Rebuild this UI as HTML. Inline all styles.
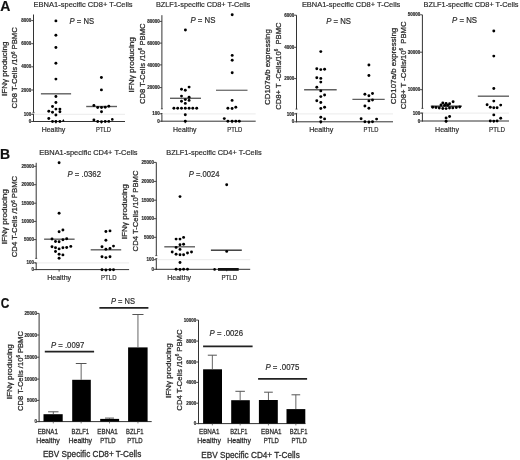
<!DOCTYPE html>
<html><head><meta charset="utf-8"><style>
html,body{margin:0;padding:0;background:#fff;}
body{width:520px;height:460px;overflow:hidden;}
svg{display:block;font-family:"Liberation Sans", sans-serif;will-change:transform;}
text{stroke:#333;stroke-width:0.2px;paint-order:stroke;}
.yl{stroke-width:0.28px;}
</style></head><body>
<svg width="520" height="460" viewBox="0 0 520 460">
<rect width="520" height="460" fill="#fff"/>
<text x="0.2" y="10.9" font-size="14" text-anchor="start" font-weight="bold" font-style="normal" fill="#111" >A</text>
<text x="0.0" y="159.3" font-size="14" text-anchor="start" font-weight="bold" font-style="normal" fill="#111" >B</text>
<text x="0.7" y="307.5" font-size="14.3" text-anchor="start" font-weight="bold" font-style="normal" fill="#111" textLength="8.6" lengthAdjust="spacingAndGlyphs" >C</text>
<text x="33.6" y="7.2" font-size="7.9" text-anchor="start" font-weight="normal" font-style="normal" fill="#2a2a2a" textLength="99.0" lengthAdjust="spacingAndGlyphs" >EBNA1-specific CD8+ T-Cells</text>
<text x="69.6" y="23.6" font-size="8.3" fill="#2a2a2a" textLength="24.4" lengthAdjust="spacingAndGlyphs"><tspan font-style="italic">P</tspan> = NS</text>
<text class="yl" transform="translate(6.55,96.0) rotate(-90)" x="0" y="0" font-size="7.8" fill="#2a2a2a" textLength="54.4" lengthAdjust="spacingAndGlyphs">IFNγ producing</text>
<text class="yl" transform="translate(17.35,108.4) rotate(-90)" x="0" y="0" font-size="7.8" fill="#2a2a2a" textLength="81.2" lengthAdjust="spacingAndGlyphs">CD8 T-Cells /10<tspan font-size="4.5" dy="-2.5">6</tspan><tspan dy="2.5"> PBMC</tspan></text>
<line x1="33.5" y1="14.5" x2="33.5" y2="112.4" stroke="#333" stroke-width="1.0" />
<line x1="33.5" y1="114.2" x2="33.5" y2="122.0" stroke="#333" stroke-width="1.0" />
<line x1="32.5" y1="112.4" x2="34.5" y2="112.4" stroke="#333" stroke-width="0.8" />
<line x1="32.5" y1="114.2" x2="34.5" y2="114.2" stroke="#333" stroke-width="0.8" />
<line x1="33.0" y1="121.5" x2="125.0" y2="121.5" stroke="#333" stroke-width="1.0" />
<line x1="34.0" y1="114.3" x2="125.0" y2="114.3" stroke="#efefef" stroke-width="1.2" />
<line x1="31.2" y1="20.6" x2="33.5" y2="20.6" stroke="#333" stroke-width="0.9" />
<text x="31.3" y="22.200000000000003" font-size="4.5" text-anchor="end" font-weight="bold" font-style="normal" fill="#222" style="stroke-width:0.15px">8000</text>
<line x1="31.2" y1="43.7" x2="33.5" y2="43.7" stroke="#333" stroke-width="0.9" />
<text x="31.3" y="45.300000000000004" font-size="4.5" text-anchor="end" font-weight="bold" font-style="normal" fill="#222" style="stroke-width:0.15px">6000</text>
<line x1="31.2" y1="66.8" x2="33.5" y2="66.8" stroke="#333" stroke-width="0.9" />
<text x="31.3" y="68.39999999999999" font-size="4.5" text-anchor="end" font-weight="bold" font-style="normal" fill="#222" style="stroke-width:0.15px">4000</text>
<line x1="31.2" y1="90.0" x2="33.5" y2="90.0" stroke="#333" stroke-width="0.9" />
<text x="31.3" y="91.6" font-size="4.5" text-anchor="end" font-weight="bold" font-style="normal" fill="#222" style="stroke-width:0.15px">2000</text>
<line x1="31.2" y1="114.3" x2="33.5" y2="114.3" stroke="#333" stroke-width="0.9" />
<text x="31.3" y="115.89999999999999" font-size="4.5" text-anchor="end" font-weight="bold" font-style="normal" fill="#222" style="stroke-width:0.15px">100</text>
<line x1="31.2" y1="121.5" x2="33.5" y2="121.5" stroke="#333" stroke-width="0.9" />
<text x="31.3" y="123.1" font-size="4.5" text-anchor="end" font-weight="bold" font-style="normal" fill="#222" style="stroke-width:0.15px">0</text>
<line x1="55.9" y1="121.5" x2="55.9" y2="123.5" stroke="#333" stroke-width="0.9" />
<line x1="101.4" y1="121.5" x2="101.4" y2="123.5" stroke="#333" stroke-width="0.9" />
<path d="M61.9,121.4 L63.3,118.9 L64.7,121.4 Z" fill="#000"/>
<line x1="40.9" y1="93.8" x2="71.1" y2="93.8" stroke="#606060" stroke-width="1.4" />
<line x1="86.2" y1="106.5" x2="117.0" y2="106.5" stroke="#606060" stroke-width="1.4" />
<text x="41.7" y="131.8" font-size="7.2" text-anchor="start" font-weight="normal" font-style="normal" fill="#2a2a2a" textLength="23.6" lengthAdjust="spacingAndGlyphs" >Healthy</text>
<text x="96.1" y="131.8" font-size="7.2" text-anchor="start" font-weight="normal" font-style="normal" fill="#2a2a2a" textLength="14.9" lengthAdjust="spacingAndGlyphs" >PTLD</text>
<text x="155.9" y="7.0" font-size="7.9" text-anchor="start" font-weight="normal" font-style="normal" fill="#2a2a2a" textLength="94.4" lengthAdjust="spacingAndGlyphs" >BZLF1-specific CD8+ T-Cells</text>
<text x="190.4" y="22.9" font-size="8.3" fill="#2a2a2a" textLength="25.0" lengthAdjust="spacingAndGlyphs"><tspan font-style="italic">P</tspan> = NS</text>
<text class="yl" transform="translate(134.25,92.5) rotate(-90)" x="0" y="0" font-size="7.8" fill="#2a2a2a" textLength="55.3" lengthAdjust="spacingAndGlyphs">IFNγ producing</text>
<text class="yl" transform="translate(144.55,104.1) rotate(-90)" x="0" y="0" font-size="7.8" fill="#2a2a2a" textLength="80.7" lengthAdjust="spacingAndGlyphs">CD8 T-Cells /10<tspan font-size="4.5" dy="-2.5">6</tspan><tspan dy="2.5"> PBMC</tspan></text>
<line x1="161.9" y1="15.2" x2="161.9" y2="108.8" stroke="#333" stroke-width="1.0" />
<line x1="161.9" y1="113.5" x2="161.9" y2="121.7" stroke="#333" stroke-width="1.0" />
<line x1="160.9" y1="108.8" x2="162.9" y2="108.8" stroke="#333" stroke-width="0.8" />
<line x1="160.9" y1="113.5" x2="162.9" y2="113.5" stroke="#333" stroke-width="0.8" />
<line x1="161.4" y1="121.2" x2="255.7" y2="121.2" stroke="#333" stroke-width="1.0" />
<line x1="162.4" y1="113.8" x2="255.7" y2="113.8" stroke="#efefef" stroke-width="1.2" />
<line x1="159.6" y1="21.4" x2="161.9" y2="21.4" stroke="#333" stroke-width="0.9" />
<text x="159.70000000000002" y="23.0" font-size="4.5" text-anchor="end" font-weight="bold" font-style="normal" fill="#222" style="stroke-width:0.15px">80000</text>
<line x1="159.6" y1="43.1" x2="161.9" y2="43.1" stroke="#333" stroke-width="0.9" />
<text x="159.70000000000002" y="44.7" font-size="4.5" text-anchor="end" font-weight="bold" font-style="normal" fill="#222" style="stroke-width:0.15px">60000</text>
<line x1="159.6" y1="64.9" x2="161.9" y2="64.9" stroke="#333" stroke-width="0.9" />
<text x="159.70000000000002" y="66.5" font-size="4.5" text-anchor="end" font-weight="bold" font-style="normal" fill="#222" style="stroke-width:0.15px">40000</text>
<line x1="159.6" y1="87.6" x2="161.9" y2="87.6" stroke="#333" stroke-width="0.9" />
<text x="159.70000000000002" y="89.19999999999999" font-size="4.5" text-anchor="end" font-weight="bold" font-style="normal" fill="#222" style="stroke-width:0.15px">20000</text>
<line x1="159.6" y1="113.8" x2="161.9" y2="113.8" stroke="#333" stroke-width="0.9" />
<text x="159.70000000000002" y="115.39999999999999" font-size="4.5" text-anchor="end" font-weight="bold" font-style="normal" fill="#222" style="stroke-width:0.15px">100</text>
<line x1="159.6" y1="121.2" x2="161.9" y2="121.2" stroke="#333" stroke-width="0.9" />
<text x="159.70000000000002" y="122.8" font-size="4.5" text-anchor="end" font-weight="bold" font-style="normal" fill="#222" style="stroke-width:0.15px">0</text>
<line x1="185.3" y1="121.2" x2="185.3" y2="123.2" stroke="#333" stroke-width="0.9" />
<line x1="232.1" y1="121.2" x2="232.1" y2="123.2" stroke="#333" stroke-width="0.9" />
<line x1="170.0" y1="98.3" x2="201.0" y2="98.3" stroke="#606060" stroke-width="1.4" />
<line x1="216.0" y1="90.3" x2="247.5" y2="90.3" stroke="#777" stroke-width="1.4" />
<text x="173.1" y="131.9" font-size="7.2" text-anchor="start" font-weight="normal" font-style="normal" fill="#2a2a2a" textLength="23.4" lengthAdjust="spacingAndGlyphs" >Healthy</text>
<text x="227.3" y="131.9" font-size="7.2" text-anchor="start" font-weight="normal" font-style="normal" fill="#2a2a2a" textLength="15.0" lengthAdjust="spacingAndGlyphs" >PTLD</text>
<text x="301.9" y="7.1" font-size="7.9" text-anchor="start" font-weight="normal" font-style="normal" fill="#2a2a2a" textLength="98.4" lengthAdjust="spacingAndGlyphs" >EBNA1-specific CD8+ T-Cells</text>
<text x="326.3" y="23.5" font-size="8.3" fill="#2a2a2a" textLength="24.7" lengthAdjust="spacingAndGlyphs"><tspan font-style="italic">P</tspan> = NS</text>
<text class="yl" transform="translate(270.25,104.9) rotate(-90)" x="0" y="0" font-size="7.8" fill="#2a2a2a" textLength="75.7" lengthAdjust="spacingAndGlyphs">CD107a/b expressing</text>
<text class="yl" transform="translate(280.75,109.7) rotate(-90)" x="0" y="0" font-size="7.8" fill="#2a2a2a" textLength="87.3" lengthAdjust="spacingAndGlyphs">CD8+ T -Cells/10<tspan font-size="4.5" dy="-2.5">6</tspan><tspan dy="2.5">&#160;&#160;PBMC</tspan></text>
<line x1="296.5" y1="15.2" x2="296.5" y2="109.1" stroke="#333" stroke-width="1.0" />
<line x1="296.5" y1="113.4" x2="296.5" y2="122.3" stroke="#333" stroke-width="1.0" />
<line x1="295.5" y1="109.1" x2="297.5" y2="109.1" stroke="#333" stroke-width="0.8" />
<line x1="295.5" y1="113.4" x2="297.5" y2="113.4" stroke="#333" stroke-width="0.8" />
<line x1="296.0" y1="121.8" x2="393.0" y2="121.8" stroke="#333" stroke-width="1.0" />
<line x1="297.0" y1="113.9" x2="393.0" y2="113.9" stroke="#efefef" stroke-width="1.2" />
<line x1="294.2" y1="15.2" x2="296.5" y2="15.2" stroke="#333" stroke-width="0.9" />
<text x="294.3" y="16.8" font-size="4.5" text-anchor="end" font-weight="bold" font-style="normal" fill="#222" style="stroke-width:0.15px">6000</text>
<line x1="294.2" y1="47.3" x2="296.5" y2="47.3" stroke="#333" stroke-width="0.9" />
<text x="294.3" y="48.9" font-size="4.5" text-anchor="end" font-weight="bold" font-style="normal" fill="#222" style="stroke-width:0.15px">4000</text>
<line x1="294.2" y1="78.6" x2="296.5" y2="78.6" stroke="#333" stroke-width="0.9" />
<text x="294.3" y="80.19999999999999" font-size="4.5" text-anchor="end" font-weight="bold" font-style="normal" fill="#222" style="stroke-width:0.15px">2000</text>
<line x1="294.2" y1="113.9" x2="296.5" y2="113.9" stroke="#333" stroke-width="0.9" />
<text x="294.3" y="115.5" font-size="4.5" text-anchor="end" font-weight="bold" font-style="normal" fill="#222" style="stroke-width:0.15px">100</text>
<line x1="294.2" y1="121.8" x2="296.5" y2="121.8" stroke="#333" stroke-width="0.9" />
<text x="294.3" y="123.39999999999999" font-size="4.5" text-anchor="end" font-weight="bold" font-style="normal" fill="#222" style="stroke-width:0.15px">0</text>
<line x1="320.8" y1="121.8" x2="320.8" y2="123.8" stroke="#333" stroke-width="0.9" />
<line x1="368.9" y1="121.8" x2="368.9" y2="123.8" stroke="#333" stroke-width="0.9" />
<line x1="304.1" y1="89.7" x2="336.7" y2="89.7" stroke="#606060" stroke-width="1.4" />
<line x1="352.4" y1="99.4" x2="384.7" y2="99.4" stroke="#606060" stroke-width="1.4" />
<text x="309.2" y="131.8" font-size="7.2" text-anchor="start" font-weight="normal" font-style="normal" fill="#2a2a2a" textLength="24.0" lengthAdjust="spacingAndGlyphs" >Healthy</text>
<text x="363.6" y="131.8" font-size="7.2" text-anchor="start" font-weight="normal" font-style="normal" fill="#2a2a2a" textLength="14.8" lengthAdjust="spacingAndGlyphs" >PTLD</text>
<text x="423.6" y="7.0" font-size="7.9" text-anchor="start" font-weight="normal" font-style="normal" fill="#2a2a2a" textLength="94.9" lengthAdjust="spacingAndGlyphs" >BZLF1-specific CD8+ T-Cells</text>
<text x="452.0" y="23.3" font-size="8.3" fill="#2a2a2a" textLength="25.0" lengthAdjust="spacingAndGlyphs"><tspan font-style="italic">P</tspan> = NS</text>
<text class="yl" transform="translate(395.55,104.3) rotate(-90)" x="0" y="0" font-size="7.8" fill="#2a2a2a" textLength="76.6" lengthAdjust="spacingAndGlyphs">CD107a/b expressing</text>
<text class="yl" transform="translate(405.55,109.3) rotate(-90)" x="0" y="0" font-size="7.8" fill="#2a2a2a" textLength="87.9" lengthAdjust="spacingAndGlyphs">CD8+ T -Cells/10<tspan font-size="4.5" dy="-2.5">6</tspan><tspan dy="2.5">&#160;&#160;PBMC</tspan></text>
<line x1="422.4" y1="14.8" x2="422.4" y2="108.4" stroke="#333" stroke-width="1.0" />
<line x1="422.4" y1="113.0" x2="422.4" y2="121.5" stroke="#333" stroke-width="1.0" />
<line x1="421.4" y1="108.4" x2="423.4" y2="108.4" stroke="#333" stroke-width="0.8" />
<line x1="421.4" y1="113.0" x2="423.4" y2="113.0" stroke="#333" stroke-width="0.8" />
<line x1="421.9" y1="121.0" x2="509.0" y2="121.0" stroke="#333" stroke-width="1.0" />
<line x1="422.9" y1="113.1" x2="509.0" y2="113.1" stroke="#efefef" stroke-width="1.2" />
<line x1="420.09999999999997" y1="14.8" x2="422.4" y2="14.8" stroke="#333" stroke-width="0.9" />
<text x="420.2" y="16.400000000000002" font-size="4.5" text-anchor="end" font-weight="bold" font-style="normal" fill="#222" style="stroke-width:0.15px">50000</text>
<line x1="420.09999999999997" y1="52.2" x2="422.4" y2="52.2" stroke="#333" stroke-width="0.9" />
<text x="420.2" y="53.800000000000004" font-size="4.5" text-anchor="end" font-weight="bold" font-style="normal" fill="#222" style="stroke-width:0.15px">30000</text>
<line x1="420.09999999999997" y1="89.7" x2="422.4" y2="89.7" stroke="#333" stroke-width="0.9" />
<text x="420.2" y="91.3" font-size="4.5" text-anchor="end" font-weight="bold" font-style="normal" fill="#222" style="stroke-width:0.15px">10000</text>
<line x1="420.09999999999997" y1="113.1" x2="422.4" y2="113.1" stroke="#333" stroke-width="0.9" />
<text x="420.2" y="114.69999999999999" font-size="4.5" text-anchor="end" font-weight="bold" font-style="normal" fill="#222" style="stroke-width:0.15px">100</text>
<line x1="420.09999999999997" y1="121.0" x2="422.4" y2="121.0" stroke="#333" stroke-width="0.9" />
<text x="420.2" y="122.6" font-size="4.5" text-anchor="end" font-weight="bold" font-style="normal" fill="#222" style="stroke-width:0.15px">0</text>
<line x1="446.1" y1="121.0" x2="446.1" y2="123.0" stroke="#333" stroke-width="0.9" />
<line x1="493.8" y1="121.0" x2="493.8" y2="123.0" stroke="#333" stroke-width="0.9" />
<line x1="430.8" y1="106.2" x2="461.8" y2="106.2" stroke="#333" stroke-width="1.4" />
<line x1="477.8" y1="96.2" x2="509.0" y2="96.2" stroke="#606060" stroke-width="1.4" />
<text x="435.1" y="131.5" font-size="7.2" text-anchor="start" font-weight="normal" font-style="normal" fill="#2a2a2a" textLength="23.9" lengthAdjust="spacingAndGlyphs" >Healthy</text>
<text x="489.1" y="131.7" font-size="7.2" text-anchor="start" font-weight="normal" font-style="normal" fill="#2a2a2a" textLength="15.9" lengthAdjust="spacingAndGlyphs" >PTLD</text>
<text x="39.3" y="154.6" font-size="7.9" text-anchor="start" font-weight="normal" font-style="normal" fill="#2a2a2a" textLength="98.3" lengthAdjust="spacingAndGlyphs" >EBNA1-specific CD4+ T-Cells</text>
<text x="67.5" y="176.5" font-size="8.3" fill="#2a2a2a" textLength="33.5" lengthAdjust="spacingAndGlyphs"><tspan font-style="italic">P</tspan> = .0362</text>
<text class="yl" transform="translate(6.85,244.3) rotate(-90)" x="0" y="0" font-size="7.8" fill="#2a2a2a" textLength="55.2" lengthAdjust="spacingAndGlyphs">IFNγ producing</text>
<text class="yl" transform="translate(17.35,257.3) rotate(-90)" x="0" y="0" font-size="7.8" fill="#2a2a2a" textLength="81.5" lengthAdjust="spacingAndGlyphs">CD4 T-Cells /10<tspan font-size="4.5" dy="-2.5">6</tspan><tspan dy="2.5"> PBMC</tspan></text>
<line x1="36.2" y1="162.8" x2="36.2" y2="258.4" stroke="#333" stroke-width="1.0" />
<line x1="36.2" y1="263.0" x2="36.2" y2="270.1" stroke="#333" stroke-width="1.0" />
<line x1="35.2" y1="258.4" x2="37.2" y2="258.4" stroke="#333" stroke-width="0.8" />
<line x1="35.2" y1="263.0" x2="37.2" y2="263.0" stroke="#333" stroke-width="0.8" />
<line x1="35.7" y1="269.6" x2="129.1" y2="269.6" stroke="#333" stroke-width="1.0" />
<line x1="36.7" y1="262.8" x2="129.1" y2="262.8" stroke="#efefef" stroke-width="1.2" />
<line x1="33.900000000000006" y1="166.3" x2="36.2" y2="166.3" stroke="#333" stroke-width="0.9" />
<text x="34.0" y="167.9" font-size="4.5" text-anchor="end" font-weight="bold" font-style="normal" fill="#222" style="stroke-width:0.15px">25000</text>
<line x1="33.900000000000006" y1="184.7" x2="36.2" y2="184.7" stroke="#333" stroke-width="0.9" />
<text x="34.0" y="186.29999999999998" font-size="4.5" text-anchor="end" font-weight="bold" font-style="normal" fill="#222" style="stroke-width:0.15px">20000</text>
<line x1="33.900000000000006" y1="203.2" x2="36.2" y2="203.2" stroke="#333" stroke-width="0.9" />
<text x="34.0" y="204.79999999999998" font-size="4.5" text-anchor="end" font-weight="bold" font-style="normal" fill="#222" style="stroke-width:0.15px">15000</text>
<line x1="33.900000000000006" y1="221.4" x2="36.2" y2="221.4" stroke="#333" stroke-width="0.9" />
<text x="34.0" y="223.0" font-size="4.5" text-anchor="end" font-weight="bold" font-style="normal" fill="#222" style="stroke-width:0.15px">10000</text>
<line x1="33.900000000000006" y1="239.6" x2="36.2" y2="239.6" stroke="#333" stroke-width="0.9" />
<text x="34.0" y="241.2" font-size="4.5" text-anchor="end" font-weight="bold" font-style="normal" fill="#222" style="stroke-width:0.15px">5000</text>
<line x1="33.900000000000006" y1="262.8" x2="36.2" y2="262.8" stroke="#333" stroke-width="0.9" />
<text x="34.0" y="264.40000000000003" font-size="4.5" text-anchor="end" font-weight="bold" font-style="normal" fill="#222" style="stroke-width:0.15px">100</text>
<line x1="33.900000000000006" y1="269.6" x2="36.2" y2="269.6" stroke="#333" stroke-width="0.9" />
<text x="34.0" y="271.20000000000005" font-size="4.5" text-anchor="end" font-weight="bold" font-style="normal" fill="#222" style="stroke-width:0.15px">0</text>
<line x1="59.1" y1="269.6" x2="59.1" y2="271.6" stroke="#333" stroke-width="0.9" />
<line x1="105.9" y1="269.6" x2="105.9" y2="271.6" stroke="#333" stroke-width="0.9" />
<line x1="44.1" y1="239.2" x2="74.6" y2="239.2" stroke="#606060" stroke-width="1.4" />
<line x1="90.7" y1="249.8" x2="121.2" y2="249.8" stroke="#606060" stroke-width="1.4" />
<text x="47.2" y="279.8" font-size="7.2" text-anchor="start" font-weight="normal" font-style="normal" fill="#2a2a2a" textLength="23.9" lengthAdjust="spacingAndGlyphs" >Healthy</text>
<text x="101.1" y="279.6" font-size="7.2" text-anchor="start" font-weight="normal" font-style="normal" fill="#2a2a2a" textLength="15.4" lengthAdjust="spacingAndGlyphs" >PTLD</text>
<text x="166.3" y="154.7" font-size="7.9" text-anchor="start" font-weight="normal" font-style="normal" fill="#2a2a2a" textLength="95.4" lengthAdjust="spacingAndGlyphs" >BZLF1-specific CD4+ T-Cells</text>
<text x="188.7" y="176.9" font-size="8.3" fill="#2a2a2a" textLength="30.7" lengthAdjust="spacingAndGlyphs"><tspan font-style="italic">P</tspan> =.0024</text>
<text class="yl" transform="translate(127.45,239.3) rotate(-90)" x="0" y="0" font-size="7.8" fill="#2a2a2a" textLength="55.2" lengthAdjust="spacingAndGlyphs">IFNγ producing</text>
<text class="yl" transform="translate(137.55,251.4) rotate(-90)" x="0" y="0" font-size="7.8" fill="#2a2a2a" textLength="80.9" lengthAdjust="spacingAndGlyphs">CD4 T-Cells /10<tspan font-size="4.5" dy="-2.5">6</tspan><tspan dy="2.5"> PBMC</tspan></text>
<line x1="156.3" y1="162.4" x2="156.3" y2="255.6" stroke="#333" stroke-width="1.0" />
<line x1="156.3" y1="258.6" x2="156.3" y2="269.8" stroke="#333" stroke-width="1.0" />
<line x1="155.3" y1="255.6" x2="157.3" y2="255.6" stroke="#333" stroke-width="0.8" />
<line x1="155.3" y1="258.6" x2="157.3" y2="258.6" stroke="#333" stroke-width="0.8" />
<line x1="155.8" y1="269.3" x2="250.2" y2="269.3" stroke="#333" stroke-width="1.0" />
<line x1="156.8" y1="259.7" x2="250.2" y2="259.7" stroke="#efefef" stroke-width="1.2" />
<line x1="154.0" y1="162.4" x2="156.3" y2="162.4" stroke="#333" stroke-width="0.9" />
<text x="154.10000000000002" y="164.0" font-size="4.5" text-anchor="end" font-weight="bold" font-style="normal" fill="#222" style="stroke-width:0.15px">25000</text>
<line x1="154.0" y1="181.4" x2="156.3" y2="181.4" stroke="#333" stroke-width="0.9" />
<text x="154.10000000000002" y="183.0" font-size="4.5" text-anchor="end" font-weight="bold" font-style="normal" fill="#222" style="stroke-width:0.15px">20000</text>
<line x1="154.0" y1="200.2" x2="156.3" y2="200.2" stroke="#333" stroke-width="0.9" />
<text x="154.10000000000002" y="201.79999999999998" font-size="4.5" text-anchor="end" font-weight="bold" font-style="normal" fill="#222" style="stroke-width:0.15px">15000</text>
<line x1="154.0" y1="218.7" x2="156.3" y2="218.7" stroke="#333" stroke-width="0.9" />
<text x="154.10000000000002" y="220.29999999999998" font-size="4.5" text-anchor="end" font-weight="bold" font-style="normal" fill="#222" style="stroke-width:0.15px">10000</text>
<line x1="154.0" y1="237.3" x2="156.3" y2="237.3" stroke="#333" stroke-width="0.9" />
<text x="154.10000000000002" y="238.9" font-size="4.5" text-anchor="end" font-weight="bold" font-style="normal" fill="#222" style="stroke-width:0.15px">5000</text>
<line x1="154.0" y1="259.7" x2="156.3" y2="259.7" stroke="#333" stroke-width="0.9" />
<text x="154.10000000000002" y="261.3" font-size="4.5" text-anchor="end" font-weight="bold" font-style="normal" fill="#222" style="stroke-width:0.15px">100</text>
<line x1="154.0" y1="269.3" x2="156.3" y2="269.3" stroke="#333" stroke-width="0.9" />
<text x="154.10000000000002" y="270.90000000000003" font-size="4.5" text-anchor="end" font-weight="bold" font-style="normal" fill="#222" style="stroke-width:0.15px">0</text>
<line x1="180.0" y1="269.3" x2="180.0" y2="271.3" stroke="#333" stroke-width="0.9" />
<line x1="226.7" y1="269.3" x2="226.7" y2="271.3" stroke="#333" stroke-width="0.9" />
<line x1="164.3" y1="246.8" x2="195.0" y2="246.8" stroke="#606060" stroke-width="1.4" />
<line x1="210.9" y1="250.2" x2="241.8" y2="250.2" stroke="#333" stroke-width="1.4" />
<rect x="218.0" y="268.0" width="20.7" height="2.8" fill="#111"/>
<text x="167.2" y="279.5" font-size="7.2" text-anchor="start" font-weight="normal" font-style="normal" fill="#2a2a2a" textLength="23.9" lengthAdjust="spacingAndGlyphs" >Healthy</text>
<text x="221.5" y="279.8" font-size="7.2" text-anchor="start" font-weight="normal" font-style="normal" fill="#2a2a2a" textLength="15.7" lengthAdjust="spacingAndGlyphs" >PTLD</text>
<text class="yl" transform="translate(12.35,399.3) rotate(-90)" x="0" y="0" font-size="7.8" fill="#2a2a2a" textLength="55.1" lengthAdjust="spacingAndGlyphs">IFNγ producing</text>
<text class="yl" transform="translate(22.95,411.0) rotate(-90)" x="0" y="0" font-size="7.8" fill="#2a2a2a" textLength="79.9" lengthAdjust="spacingAndGlyphs">CD8 T-Cells /10<tspan font-size="4.5" dy="-2.5">6</tspan><tspan dy="2.5"> PBMC</tspan></text>
<line x1="39.1" y1="313.4" x2="39.1" y2="422.1" stroke="#333" stroke-width="1.0" />
<line x1="38.6" y1="421.6" x2="151.7" y2="421.6" stroke="#333" stroke-width="1.0" />
<line x1="36.800000000000004" y1="313.4" x2="39.1" y2="313.4" stroke="#333" stroke-width="0.9" />
<text x="36.9" y="315.0" font-size="4.5" text-anchor="end" font-weight="bold" font-style="normal" fill="#222" style="stroke-width:0.15px">25000</text>
<line x1="36.800000000000004" y1="335.0" x2="39.1" y2="335.0" stroke="#333" stroke-width="0.9" />
<text x="36.9" y="336.6" font-size="4.5" text-anchor="end" font-weight="bold" font-style="normal" fill="#222" style="stroke-width:0.15px">20000</text>
<line x1="36.800000000000004" y1="357.2" x2="39.1" y2="357.2" stroke="#333" stroke-width="0.9" />
<text x="36.9" y="358.8" font-size="4.5" text-anchor="end" font-weight="bold" font-style="normal" fill="#222" style="stroke-width:0.15px">15000</text>
<line x1="36.800000000000004" y1="379.1" x2="39.1" y2="379.1" stroke="#333" stroke-width="0.9" />
<text x="36.9" y="380.70000000000005" font-size="4.5" text-anchor="end" font-weight="bold" font-style="normal" fill="#222" style="stroke-width:0.15px">10000</text>
<line x1="36.800000000000004" y1="400.4" x2="39.1" y2="400.4" stroke="#333" stroke-width="0.9" />
<text x="36.9" y="402.0" font-size="4.5" text-anchor="end" font-weight="bold" font-style="normal" fill="#222" style="stroke-width:0.15px">5000</text>
<line x1="36.800000000000004" y1="421.6" x2="39.1" y2="421.6" stroke="#333" stroke-width="0.9" />
<text x="36.9" y="423.20000000000005" font-size="4.5" text-anchor="end" font-weight="bold" font-style="normal" fill="#222" style="stroke-width:0.15px">0</text>
<rect x="43.5" y="414.2" width="19.2" height="7.4" fill="#000"/>
<line x1="53.3" y1="411.8" x2="53.3" y2="414.2" stroke="#555" stroke-width="0.9" />
<line x1="48.1" y1="411.8" x2="58.5" y2="411.8" stroke="#555" stroke-width="1.0" />
<line x1="53.3" y1="421.6" x2="53.3" y2="423.40000000000003" stroke="#444" stroke-width="0.7" />
<rect x="72.2" y="379.8" width="18.6" height="41.8" fill="#000"/>
<line x1="81.15" y1="363.5" x2="81.15" y2="379.8" stroke="#555" stroke-width="0.9" />
<line x1="75.8" y1="363.5" x2="86.5" y2="363.5" stroke="#555" stroke-width="1.0" />
<line x1="81.15" y1="421.6" x2="81.15" y2="423.40000000000003" stroke="#444" stroke-width="0.7" />
<rect x="100.2" y="418.9" width="18.9" height="2.7" fill="#000"/>
<line x1="109.5" y1="418.1" x2="109.5" y2="418.9" stroke="#555" stroke-width="0.9" />
<line x1="105.0" y1="418.1" x2="114.0" y2="418.1" stroke="#555" stroke-width="1.0" />
<line x1="109.5" y1="421.6" x2="109.5" y2="423.40000000000003" stroke="#444" stroke-width="0.7" />
<rect x="128.1" y="347.4" width="19.5" height="74.2" fill="#000"/>
<line x1="137.95" y1="314.5" x2="137.95" y2="347.4" stroke="#555" stroke-width="0.9" />
<line x1="132.4" y1="314.5" x2="143.5" y2="314.5" stroke="#555" stroke-width="1.0" />
<line x1="137.95" y1="421.6" x2="137.95" y2="423.40000000000003" stroke="#444" stroke-width="0.7" />
<line x1="44.8" y1="351.7" x2="94.1" y2="351.7" stroke="#222" stroke-width="1.7" />
<line x1="99.4" y1="307.9" x2="148.4" y2="307.9" stroke="#222" stroke-width="1.7" />
<text x="51.0" y="348.1" font-size="8.3" fill="#2a2a2a" textLength="33.3" lengthAdjust="spacingAndGlyphs"><tspan font-style="italic">P</tspan> = .0097</text>
<text x="110.9" y="304.1" font-size="8.3" fill="#2a2a2a" textLength="24.1" lengthAdjust="spacingAndGlyphs"><tspan font-style="italic">P</tspan> = NS</text>
<text x="37.7" y="433.9" font-size="7.5" text-anchor="start" font-weight="normal" font-style="normal" fill="#2a2a2a" textLength="20.2" lengthAdjust="spacingAndGlyphs" class="yl">EBNA1</text>
<text x="71.6" y="433.9" font-size="7.5" text-anchor="start" font-weight="normal" font-style="normal" fill="#2a2a2a" textLength="17.5" lengthAdjust="spacingAndGlyphs" class="yl">BZLF1</text>
<text x="97.3" y="433.9" font-size="7.5" text-anchor="start" font-weight="normal" font-style="normal" fill="#2a2a2a" textLength="20.5" lengthAdjust="spacingAndGlyphs" class="yl">EBNA1</text>
<text x="126.0" y="433.9" font-size="7.5" text-anchor="start" font-weight="normal" font-style="normal" fill="#2a2a2a" textLength="17.5" lengthAdjust="spacingAndGlyphs" class="yl">BZLF1</text>
<text x="36.2" y="442.7" font-size="7.5" text-anchor="start" font-weight="normal" font-style="normal" fill="#2a2a2a" textLength="23.6" lengthAdjust="spacingAndGlyphs" class="yl">Healthy</text>
<text x="68.6" y="442.7" font-size="7.5" text-anchor="start" font-weight="normal" font-style="normal" fill="#2a2a2a" textLength="23.5" lengthAdjust="spacingAndGlyphs" class="yl">Healthy</text>
<text x="100.2" y="442.7" font-size="7.5" text-anchor="start" font-weight="normal" font-style="normal" fill="#2a2a2a" textLength="15.4" lengthAdjust="spacingAndGlyphs" class="yl">PTLD</text>
<text x="127.3" y="442.7" font-size="7.5" text-anchor="start" font-weight="normal" font-style="normal" fill="#2a2a2a" textLength="15.3" lengthAdjust="spacingAndGlyphs" class="yl">PTLD</text>
<text x="42.9" y="457.2" font-size="8.8" text-anchor="start" font-weight="normal" font-style="normal" fill="#2a2a2a" textLength="98.4" lengthAdjust="spacingAndGlyphs" class="yl">EBV Specific CD8+ T-Cells</text>
<text class="yl" transform="translate(170.75,398.1) rotate(-90)" x="0" y="0" font-size="7.8" fill="#2a2a2a" textLength="54.8" lengthAdjust="spacingAndGlyphs">IFNγ producing</text>
<text class="yl" transform="translate(181.55,410.7) rotate(-90)" x="0" y="0" font-size="7.8" fill="#2a2a2a" textLength="81.3" lengthAdjust="spacingAndGlyphs">CD4 T-Cells /10<tspan font-size="4.5" dy="-2.5">6</tspan><tspan dy="2.5"> PBMC</tspan></text>
<line x1="198.5" y1="320.1" x2="198.5" y2="424.1" stroke="#333" stroke-width="1.0" />
<line x1="198.0" y1="423.6" x2="305.5" y2="423.6" stroke="#333" stroke-width="1.0" />
<line x1="196.2" y1="320.1" x2="198.5" y2="320.1" stroke="#333" stroke-width="0.9" />
<text x="196.3" y="321.70000000000005" font-size="4.5" text-anchor="end" font-weight="bold" font-style="normal" fill="#222" style="stroke-width:0.15px">10000</text>
<line x1="196.2" y1="341.1" x2="198.5" y2="341.1" stroke="#333" stroke-width="0.9" />
<text x="196.3" y="342.70000000000005" font-size="4.5" text-anchor="end" font-weight="bold" font-style="normal" fill="#222" style="stroke-width:0.15px">8000</text>
<line x1="196.2" y1="362.0" x2="198.5" y2="362.0" stroke="#333" stroke-width="0.9" />
<text x="196.3" y="363.6" font-size="4.5" text-anchor="end" font-weight="bold" font-style="normal" fill="#222" style="stroke-width:0.15px">6000</text>
<line x1="196.2" y1="382.4" x2="198.5" y2="382.4" stroke="#333" stroke-width="0.9" />
<text x="196.3" y="384.0" font-size="4.5" text-anchor="end" font-weight="bold" font-style="normal" fill="#222" style="stroke-width:0.15px">4000</text>
<line x1="196.2" y1="403.2" x2="198.5" y2="403.2" stroke="#333" stroke-width="0.9" />
<text x="196.3" y="404.8" font-size="4.5" text-anchor="end" font-weight="bold" font-style="normal" fill="#222" style="stroke-width:0.15px">2000</text>
<line x1="196.2" y1="423.6" x2="198.5" y2="423.6" stroke="#333" stroke-width="0.9" />
<text x="196.3" y="425.20000000000005" font-size="4.5" text-anchor="end" font-weight="bold" font-style="normal" fill="#222" style="stroke-width:0.15px">0</text>
<rect x="203.1" y="369.3" width="18.9" height="54.3" fill="#000"/>
<line x1="212.35000000000002" y1="355.2" x2="212.35000000000002" y2="369.3" stroke="#555" stroke-width="0.9" />
<line x1="207.8" y1="355.2" x2="216.9" y2="355.2" stroke="#555" stroke-width="1.0" />
<line x1="212.35000000000002" y1="423.6" x2="212.35000000000002" y2="425.40000000000003" stroke="#444" stroke-width="0.7" />
<rect x="231.2" y="400.2" width="18.6" height="23.4" fill="#000"/>
<line x1="240.15" y1="391.3" x2="240.15" y2="400.2" stroke="#555" stroke-width="0.9" />
<line x1="235.4" y1="391.3" x2="244.9" y2="391.3" stroke="#555" stroke-width="1.0" />
<line x1="240.15" y1="423.6" x2="240.15" y2="425.40000000000003" stroke="#444" stroke-width="0.7" />
<rect x="258.9" y="400.0" width="18.9" height="23.6" fill="#000"/>
<line x1="268.45000000000005" y1="392.2" x2="268.45000000000005" y2="400.0" stroke="#555" stroke-width="0.9" />
<line x1="264.1" y1="392.2" x2="272.8" y2="392.2" stroke="#555" stroke-width="1.0" />
<line x1="268.45000000000005" y1="423.6" x2="268.45000000000005" y2="425.40000000000003" stroke="#444" stroke-width="0.7" />
<rect x="286.5" y="409.1" width="18.8" height="14.5" fill="#000"/>
<line x1="295.85" y1="394.8" x2="295.85" y2="409.1" stroke="#555" stroke-width="0.9" />
<line x1="291.5" y1="394.8" x2="300.2" y2="394.8" stroke="#555" stroke-width="1.0" />
<line x1="295.85" y1="423.6" x2="295.85" y2="425.40000000000003" stroke="#444" stroke-width="0.7" />
<line x1="203.1" y1="346.3" x2="252.6" y2="346.3" stroke="#222" stroke-width="1.7" />
<line x1="258.1" y1="378.9" x2="307.1" y2="378.9" stroke="#222" stroke-width="1.7" />
<text x="209.6" y="335.9" font-size="8.3" fill="#2a2a2a" textLength="33.4" lengthAdjust="spacingAndGlyphs"><tspan font-style="italic">P</tspan> = .0026</text>
<text x="265.4" y="369.7" font-size="8.3" fill="#2a2a2a" textLength="33.9" lengthAdjust="spacingAndGlyphs"><tspan font-style="italic">P</tspan> = .0075</text>
<text x="199.0" y="433.9" font-size="7.5" text-anchor="start" font-weight="normal" font-style="normal" fill="#2a2a2a" textLength="20.5" lengthAdjust="spacingAndGlyphs" class="yl">EBNA1</text>
<text x="230.2" y="433.9" font-size="7.5" text-anchor="start" font-weight="normal" font-style="normal" fill="#2a2a2a" textLength="17.3" lengthAdjust="spacingAndGlyphs" class="yl">BZLF1</text>
<text x="261.1" y="433.9" font-size="7.5" text-anchor="start" font-weight="normal" font-style="normal" fill="#2a2a2a" textLength="20.5" lengthAdjust="spacingAndGlyphs" class="yl">EBNA1</text>
<text x="289.8" y="433.9" font-size="7.5" text-anchor="start" font-weight="normal" font-style="normal" fill="#2a2a2a" textLength="17.6" lengthAdjust="spacingAndGlyphs" class="yl">BZLF1</text>
<text x="197.3" y="442.5" font-size="7.5" text-anchor="start" font-weight="normal" font-style="normal" fill="#2a2a2a" textLength="23.7" lengthAdjust="spacingAndGlyphs" class="yl">Healthy</text>
<text x="227.3" y="442.5" font-size="7.5" text-anchor="start" font-weight="normal" font-style="normal" fill="#2a2a2a" textLength="23.6" lengthAdjust="spacingAndGlyphs" class="yl">Healthy</text>
<text x="263.7" y="442.5" font-size="7.5" text-anchor="start" font-weight="normal" font-style="normal" fill="#2a2a2a" textLength="15.2" lengthAdjust="spacingAndGlyphs" class="yl">PTLD</text>
<text x="291.5" y="442.5" font-size="7.5" text-anchor="start" font-weight="normal" font-style="normal" fill="#2a2a2a" textLength="15.2" lengthAdjust="spacingAndGlyphs" class="yl">PTLD</text>
<text x="201.3" y="457.5" font-size="8.8" text-anchor="start" font-weight="normal" font-style="normal" fill="#2a2a2a" textLength="98.5" lengthAdjust="spacingAndGlyphs" class="yl">EBV Specific CD4+ T-Cells</text>
<circle cx="55.9" cy="20.9" r="1.45" fill="#000"/>
<circle cx="55.9" cy="35.3" r="1.45" fill="#000"/>
<circle cx="55.9" cy="47.5" r="1.45" fill="#000"/>
<circle cx="55.9" cy="63.3" r="1.45" fill="#000"/>
<circle cx="55.9" cy="79.1" r="1.45" fill="#000"/>
<circle cx="55.9" cy="96.5" r="1.45" fill="#000"/>
<circle cx="55.9" cy="102.5" r="1.45" fill="#000"/>
<circle cx="52.5" cy="106.5" r="1.45" fill="#000"/>
<circle cx="55.9" cy="109.1" r="1.45" fill="#000"/>
<circle cx="59.9" cy="109.1" r="1.45" fill="#000"/>
<circle cx="48.8" cy="111.2" r="1.45" fill="#000"/>
<circle cx="52.5" cy="112.3" r="1.45" fill="#000"/>
<circle cx="59.9" cy="111.7" r="1.45" fill="#000"/>
<circle cx="55.9" cy="115" r="1.45" fill="#000"/>
<circle cx="48.8" cy="118.5" r="1.45" fill="#000"/>
<circle cx="52.5" cy="121.5" r="1.45" fill="#000"/>
<circle cx="55.9" cy="121.5" r="1.45" fill="#000"/>
<circle cx="59.9" cy="121.5" r="1.45" fill="#000"/>
<circle cx="101.4" cy="77.5" r="1.45" fill="#000"/>
<circle cx="101.4" cy="89.9" r="1.45" fill="#000"/>
<circle cx="93.9" cy="105.5" r="1.45" fill="#000"/>
<circle cx="97.7" cy="107.5" r="1.45" fill="#000"/>
<circle cx="101.5" cy="107.5" r="1.45" fill="#000"/>
<circle cx="105.2" cy="107.3" r="1.45" fill="#000"/>
<circle cx="108.8" cy="106.3" r="1.45" fill="#000"/>
<circle cx="101.5" cy="111.7" r="1.45" fill="#000"/>
<circle cx="93.9" cy="119.9" r="1.45" fill="#000"/>
<circle cx="97.7" cy="121.5" r="1.45" fill="#000"/>
<circle cx="101.5" cy="121.7" r="1.45" fill="#000"/>
<circle cx="105.2" cy="121.5" r="1.45" fill="#000"/>
<circle cx="108.8" cy="121.4" r="1.45" fill="#000"/>
<circle cx="112.3" cy="119.4" r="1.3" fill="#000"/>
<circle cx="185.4" cy="30" r="1.45" fill="#000"/>
<circle cx="189.1" cy="87.1" r="1.45" fill="#000"/>
<circle cx="181.5" cy="89.2" r="1.45" fill="#000"/>
<circle cx="185.3" cy="90.3" r="1.45" fill="#000"/>
<circle cx="181.5" cy="96.1" r="1.45" fill="#000"/>
<circle cx="189.1" cy="97.2" r="1.45" fill="#000"/>
<circle cx="185.3" cy="99.6" r="1.45" fill="#000"/>
<circle cx="181.5" cy="101.2" r="1.45" fill="#000"/>
<circle cx="189.1" cy="100.4" r="1.45" fill="#000"/>
<circle cx="185.3" cy="103.4" r="1.45" fill="#000"/>
<circle cx="173.9" cy="108.3" r="1.45" fill="#000"/>
<circle cx="177.7" cy="108.3" r="1.45" fill="#000"/>
<circle cx="181.5" cy="108.3" r="1.45" fill="#000"/>
<circle cx="185.3" cy="108.3" r="1.45" fill="#000"/>
<circle cx="189.1" cy="108.3" r="1.45" fill="#000"/>
<circle cx="192.8" cy="108.3" r="1.45" fill="#000"/>
<circle cx="196.7" cy="108.3" r="1.45" fill="#000"/>
<circle cx="185.3" cy="114.8" r="1.45" fill="#000"/>
<circle cx="185.3" cy="121.2" r="1.45" fill="#000"/>
<circle cx="232.2" cy="14.8" r="1.45" fill="#000"/>
<circle cx="232.2" cy="55.4" r="1.45" fill="#000"/>
<circle cx="232.2" cy="60.2" r="1.45" fill="#000"/>
<circle cx="232.2" cy="72.8" r="1.45" fill="#000"/>
<circle cx="232.1" cy="100.4" r="1.45" fill="#000"/>
<circle cx="227.9" cy="108.3" r="1.45" fill="#000"/>
<circle cx="232.1" cy="108.5" r="1.45" fill="#000"/>
<circle cx="235.8" cy="107.2" r="1.45" fill="#000"/>
<circle cx="224.3" cy="118.6" r="1.45" fill="#000"/>
<circle cx="227.9" cy="121.2" r="1.45" fill="#000"/>
<circle cx="232.1" cy="121.2" r="1.45" fill="#000"/>
<circle cx="235.8" cy="121.2" r="1.45" fill="#000"/>
<circle cx="239.3" cy="121.2" r="1.45" fill="#000"/>
<circle cx="320.8" cy="51.6" r="1.45" fill="#000"/>
<circle cx="316.8" cy="68.8" r="1.45" fill="#000"/>
<circle cx="320.8" cy="69.6" r="1.45" fill="#000"/>
<circle cx="324.6" cy="69.3" r="1.45" fill="#000"/>
<circle cx="316.8" cy="77.8" r="1.45" fill="#000"/>
<circle cx="320.8" cy="78.4" r="1.45" fill="#000"/>
<circle cx="320.8" cy="82.1" r="1.45" fill="#000"/>
<circle cx="316.8" cy="87.3" r="1.45" fill="#000"/>
<circle cx="320.8" cy="90.9" r="1.45" fill="#000"/>
<circle cx="324.6" cy="95" r="1.45" fill="#000"/>
<circle cx="320.8" cy="96.6" r="1.45" fill="#000"/>
<circle cx="316.8" cy="100.7" r="1.45" fill="#000"/>
<circle cx="320.8" cy="102.5" r="1.45" fill="#000"/>
<circle cx="324.6" cy="107.2" r="1.45" fill="#000"/>
<circle cx="320.8" cy="108.5" r="1.45" fill="#000"/>
<circle cx="320.8" cy="117.2" r="1.45" fill="#000"/>
<circle cx="324.6" cy="118.9" r="1.45" fill="#000"/>
<circle cx="320.8" cy="121.8" r="1.45" fill="#000"/>
<circle cx="368.9" cy="65" r="1.45" fill="#000"/>
<circle cx="368.9" cy="75.5" r="1.45" fill="#000"/>
<circle cx="364.9" cy="94.3" r="1.45" fill="#000"/>
<circle cx="368.9" cy="95.7" r="1.45" fill="#000"/>
<circle cx="372.5" cy="93.5" r="1.45" fill="#000"/>
<circle cx="368.9" cy="100.9" r="1.45" fill="#000"/>
<circle cx="372.5" cy="100" r="1.45" fill="#000"/>
<circle cx="364.9" cy="106" r="1.45" fill="#000"/>
<circle cx="368.9" cy="108.3" r="1.45" fill="#000"/>
<circle cx="361.1" cy="118.8" r="1.45" fill="#000"/>
<circle cx="364.9" cy="121.8" r="1.45" fill="#000"/>
<circle cx="368.9" cy="122.0" r="1.45" fill="#000"/>
<circle cx="372.5" cy="121.8" r="1.45" fill="#000"/>
<circle cx="376.6" cy="119.1" r="1.45" fill="#000"/>
<circle cx="432.7" cy="107.2" r="1.45" fill="#000"/>
<circle cx="436" cy="107.5" r="1.45" fill="#000"/>
<circle cx="439.3" cy="108" r="1.45" fill="#000"/>
<circle cx="442.8" cy="108.5" r="1.45" fill="#000"/>
<circle cx="446.1" cy="108.6" r="1.45" fill="#000"/>
<circle cx="449.5" cy="108" r="1.45" fill="#000"/>
<circle cx="452.8" cy="107.9" r="1.45" fill="#000"/>
<circle cx="456.3" cy="107.5" r="1.45" fill="#000"/>
<circle cx="459.7" cy="107" r="1.45" fill="#000"/>
<circle cx="441" cy="105" r="1.45" fill="#000"/>
<circle cx="442.8" cy="103" r="1.45" fill="#000"/>
<circle cx="446.1" cy="103.5" r="1.45" fill="#000"/>
<circle cx="444.6" cy="105.3" r="1.45" fill="#000"/>
<circle cx="447.7" cy="105.3" r="1.45" fill="#000"/>
<circle cx="449.6" cy="103.8" r="1.45" fill="#000"/>
<circle cx="453.1" cy="101.7" r="1.45" fill="#000"/>
<circle cx="446.1" cy="118" r="1.45" fill="#000"/>
<circle cx="449.6" cy="116.5" r="1.45" fill="#000"/>
<circle cx="446.1" cy="121.2" r="1.45" fill="#000"/>
<circle cx="493.8" cy="31" r="1.45" fill="#000"/>
<circle cx="493.8" cy="56.1" r="1.45" fill="#000"/>
<circle cx="493.8" cy="88.5" r="1.45" fill="#000"/>
<circle cx="493.8" cy="101.1" r="1.45" fill="#000"/>
<circle cx="487.1" cy="104.8" r="1.45" fill="#000"/>
<circle cx="490.3" cy="107.3" r="1.45" fill="#000"/>
<circle cx="493.8" cy="107.8" r="1.45" fill="#000"/>
<circle cx="497.1" cy="107.8" r="1.45" fill="#000"/>
<circle cx="500.7" cy="105.1" r="1.45" fill="#000"/>
<circle cx="493.8" cy="114.9" r="1.45" fill="#000"/>
<circle cx="500.7" cy="118.2" r="1.45" fill="#000"/>
<circle cx="490.3" cy="121.0" r="1.45" fill="#000"/>
<circle cx="493.8" cy="121.1" r="1.45" fill="#000"/>
<circle cx="497.1" cy="121.0" r="1.45" fill="#000"/>
<circle cx="59.1" cy="162.8" r="1.45" fill="#000"/>
<circle cx="59.1" cy="213.3" r="1.45" fill="#000"/>
<circle cx="59.1" cy="231.7" r="1.45" fill="#000"/>
<circle cx="62.9" cy="230" r="1.45" fill="#000"/>
<circle cx="52" cy="239" r="1.45" fill="#000"/>
<circle cx="55.5" cy="241.5" r="1.45" fill="#000"/>
<circle cx="59.1" cy="241.7" r="1.45" fill="#000"/>
<circle cx="62.9" cy="239.8" r="1.45" fill="#000"/>
<circle cx="66.7" cy="238.8" r="1.45" fill="#000"/>
<circle cx="52" cy="246.7" r="1.45" fill="#000"/>
<circle cx="55.5" cy="247.8" r="1.45" fill="#000"/>
<circle cx="59.1" cy="248.9" r="1.45" fill="#000"/>
<circle cx="62.9" cy="247.8" r="1.45" fill="#000"/>
<circle cx="66.7" cy="247.5" r="1.45" fill="#000"/>
<circle cx="70.8" cy="246.4" r="1.45" fill="#000"/>
<circle cx="55.5" cy="251.5" r="1.45" fill="#000"/>
<circle cx="59.1" cy="254.3" r="1.45" fill="#000"/>
<circle cx="62.9" cy="254.9" r="1.45" fill="#000"/>
<circle cx="59.1" cy="258.2" r="1.45" fill="#000"/>
<circle cx="105.9" cy="231.5" r="1.45" fill="#000"/>
<circle cx="110" cy="230.9" r="1.45" fill="#000"/>
<circle cx="105.9" cy="240.3" r="1.45" fill="#000"/>
<circle cx="102" cy="246.8" r="1.45" fill="#000"/>
<circle cx="105.9" cy="249.2" r="1.45" fill="#000"/>
<circle cx="110" cy="248.5" r="1.45" fill="#000"/>
<circle cx="113.5" cy="246.1" r="1.45" fill="#000"/>
<circle cx="102" cy="256.7" r="1.45" fill="#000"/>
<circle cx="105.9" cy="257.6" r="1.45" fill="#000"/>
<circle cx="110" cy="256.7" r="1.45" fill="#000"/>
<circle cx="102" cy="269.7" r="1.45" fill="#000"/>
<circle cx="105.9" cy="269.9" r="1.45" fill="#000"/>
<circle cx="110" cy="269.8" r="1.45" fill="#000"/>
<circle cx="113.5" cy="269.7" r="1.45" fill="#000"/>
<circle cx="180" cy="196.6" r="1.45" fill="#000"/>
<circle cx="176.1" cy="239.1" r="1.45" fill="#000"/>
<circle cx="180" cy="239.1" r="1.45" fill="#000"/>
<circle cx="183.6" cy="237.4" r="1.45" fill="#000"/>
<circle cx="180" cy="244.8" r="1.45" fill="#000"/>
<circle cx="183.6" cy="244.2" r="1.45" fill="#000"/>
<circle cx="176.1" cy="247.4" r="1.45" fill="#000"/>
<circle cx="180" cy="249.4" r="1.45" fill="#000"/>
<circle cx="172.2" cy="252" r="1.45" fill="#000"/>
<circle cx="176.1" cy="254.3" r="1.45" fill="#000"/>
<circle cx="180" cy="254.7" r="1.45" fill="#000"/>
<circle cx="183.6" cy="254.7" r="1.45" fill="#000"/>
<circle cx="187.5" cy="253" r="1.45" fill="#000"/>
<circle cx="191.5" cy="252" r="1.45" fill="#000"/>
<circle cx="180" cy="262.5" r="1.45" fill="#000"/>
<circle cx="176.1" cy="269.3" r="1.45" fill="#000"/>
<circle cx="180" cy="269.4" r="1.45" fill="#000"/>
<circle cx="183.6" cy="269.3" r="1.45" fill="#000"/>
<circle cx="187.5" cy="269.3" r="1.45" fill="#000"/>
<circle cx="226.7" cy="184.7" r="1.45" fill="#000"/>
<circle cx="226.7" cy="251.4" r="1.4" fill="#000"/>
<circle cx="214.6" cy="269.4" r="1.3" fill="#000"/>
</svg>
</body></html>
